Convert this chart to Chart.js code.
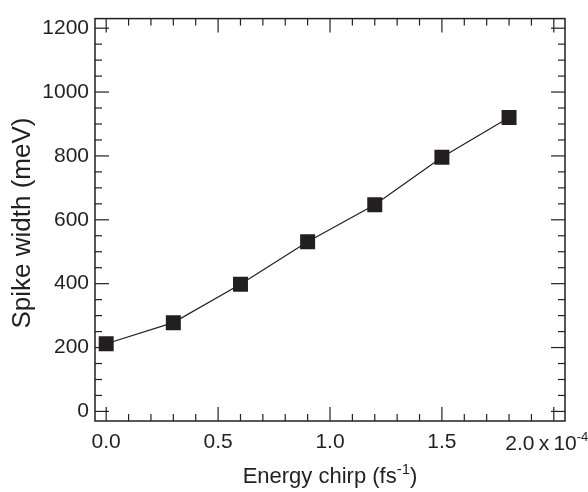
<!DOCTYPE html>
<html>
<head>
<meta charset="utf-8">
<script src="https://cdn.jsdelivr.net/npm/chart.js@4/dist/chart.umd.min.js"></script>
<style>
  html, body { margin: 0; padding: 0; background: #fff; }
  #wrap { width: 588px; height: 492px; }
</style>
</head>
<body>
<div id="wrap"><canvas id="spikeChart" width="588" height="492"></canvas></div>
<script>
// chirp in units of 1e-4 fs^-1, spike width in meV
const chirp = [0, 0.3, 0.6, 0.9, 1.2, 1.5, 1.8];
const spikeWidth = [212, 278, 398, 531, 647, 796, 920];

const xMajor = [0, 0.5, 1.0, 1.5, 2.0];
const xMinor = [0.1, 0.2, 0.3, 0.4, 0.6, 0.7, 0.8, 0.9, 1.1, 1.2, 1.3, 1.4, 1.6, 1.7, 1.8, 1.9];
const yMajor = [0, 200, 400, 600, 800, 1000, 1200];
const yMinor = [50, 100, 150, 250, 300, 350, 450, 500, 550, 650, 700, 750, 850, 900, 950, 1050, 1100, 1150];

const ink = '#231f20';
const fontFamily = '"Liberation Sans", Arial, Helvetica, sans-serif';
const tickSize = 21;
const xTitleSize = 22;
const yTitleSize = 26;

const font = size => size + 'px ' + fontFamily;

// frame, inward ticks on all four sides, axis titles and the x10^-4 exponent
const framePlugin = {
    id: 'frame',
    afterDraw(chart) {
        const { ctx, chartArea: a, scales: { x, y } } = chart;
        ctx.save();
        ctx.strokeStyle = ink;
        ctx.fillStyle = ink;

        ctx.lineWidth = 1.2;
        const tick = (x1, y1, x2, y2) => {
            ctx.beginPath();
            ctx.moveTo(x1, y1);
            ctx.lineTo(x2, y2);
            ctx.stroke();
        };
        xMajor.forEach(v => {
            const px = x.getPixelForValue(v);
            tick(px, a.bottom, px, a.bottom - 14);
            tick(px, a.top, px, a.top + 14);
        });
        xMinor.forEach(v => {
            const px = x.getPixelForValue(v);
            tick(px, a.bottom, px, a.bottom - 7);
            tick(px, a.top, px, a.top + 7);
        });
        yMajor.forEach(v => {
            const py = y.getPixelForValue(v);
            tick(a.left, py, a.left + 14, py);
            tick(a.right, py, a.right - 14, py);
        });
        yMinor.forEach(v => {
            const py = y.getPixelForValue(v);
            tick(a.left, py, a.left + 7, py);
            tick(a.right, py, a.right - 7, py);
        });

        ctx.lineWidth = 1.5;
        ctx.strokeRect(a.left, a.top, a.right - a.left, a.bottom - a.top);

        ctx.textBaseline = 'alphabetic';
        ctx.textAlign = 'left';

        // last x label with exponent
        const base = a.bottom + 29;
        const supTick = font(Math.round(tickSize * 0.62));
        const partA = '2.0';
        const partB = '\u2009x\u200910';
        ctx.font = font(tickSize);
        const wA = ctx.measureText(partA).width;
        const wB = ctx.measureText(partB).width;
        ctx.font = supTick;
        const wC = ctx.measureText('-4').width;
        const sx = x.getPixelForValue(2.0) - (wA + wB + wC) / 2 - 7;
        ctx.font = font(tickSize);
        ctx.fillText(partA, sx, base);
        ctx.fillText(partB, sx + wA, base);
        ctx.font = supTick;
        ctx.fillText('-4', sx + wA + wB, base - 9);

        // x title: Energy chirp (fs^-1)
        const supTitle = font(Math.round(xTitleSize * 0.66));
        ctx.font = font(xTitleSize);
        const t1 = 'Energy chirp (fs';
        const t3 = ')';
        const w1 = ctx.measureText(t1).width;
        const w3 = ctx.measureText(t3).width;
        ctx.font = supTitle;
        const w2 = ctx.measureText('-1').width;
        const tx = (a.left + a.right) / 2 - (w1 + w2 + w3) / 2;
        const ty = 483;
        ctx.font = font(xTitleSize);
        ctx.fillText(t1, tx, ty);
        ctx.font = supTitle;
        ctx.fillText('-1', tx + w1, ty - 9);
        ctx.font = font(xTitleSize);
        ctx.fillText(t3, tx + w1 + w2, ty);

        // y title
        ctx.font = font(yTitleSize);
        ctx.translate(30, 223);
        ctx.rotate(-Math.PI / 2);
        ctx.textAlign = 'center';
        ctx.fillText('Spike width (meV)', 0, 0);
        ctx.restore();
    }
};

new Chart(document.getElementById('spikeChart'), {
    type: 'line',
    data: {
        datasets: [{
            data: chirp.map((c, i) => ({ x: c, y: spikeWidth[i] })),
            borderColor: ink,
            borderWidth: 1.2,
            backgroundColor: ink,
            pointStyle: 'rect',
            pointRadius: 10.6,
            pointBorderWidth: 0,
            tension: 0
        }]
    },
    options: {
        animation: false,
        responsive: false,
        layout: { padding: { top: 6, right: 23, left: 0, bottom: 0 } },
        scales: {
            x: {
                type: 'linear',
                min: -0.05,
                max: 2.05,
                grid: { display: false, drawTicks: false },
                border: { display: false },
                afterBuildTicks: s => { s.ticks = xMajor.map(v => ({ value: v })); },
                afterFit: s => { s.height = 71; },
                ticks: {
                    padding: 9,
                    maxRotation: 0,
                    color: ink,
                    font: { family: fontFamily, size: tickSize },
                    callback: v => (v === 2 ? '' : v.toFixed(1))
                }
            },
            y: {
                min: -30,
                max: 1230,
                grid: { display: false, drawTicks: false },
                border: { display: false },
                afterBuildTicks: s => { s.ticks = yMajor.map(v => ({ value: v })); },
                afterFit: s => { s.width = 95; },
                ticks: {
                    padding: 6,
                    color: ink,
                    font: { family: fontFamily, size: tickSize },
                    callback: v => String(v)
                }
            }
        },
        plugins: {
            legend: { display: false },
            tooltip: { enabled: false }
        }
    },
    plugins: [framePlugin]
});
</script>
</body>
</html>
